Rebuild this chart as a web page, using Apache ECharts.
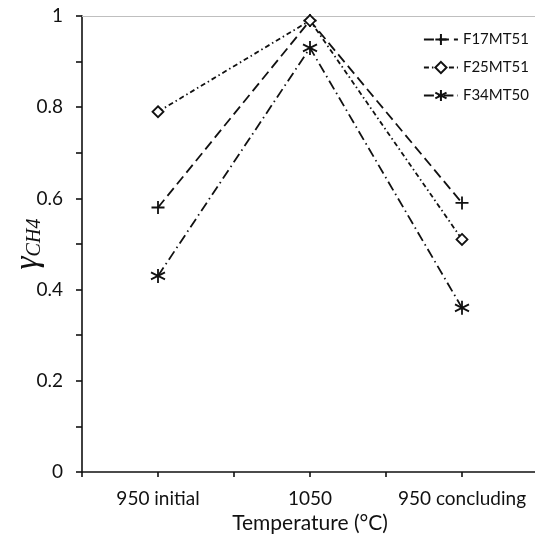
<!DOCTYPE html>
<html>
<head>
<meta charset="utf-8">
<script src="https://cdn.jsdelivr.net/npm/echarts@6/dist/echarts.min.js"></script>
<style>
  html, body { margin: 0; padding: 0; background: #fff; }
  #chart { width: 535px; height: 538px; }
</style>
</head>
<body>
<div id="chart"></div>
<script>
const categories = ['950 initial', '1050', '950 concluding'];
const seriesNames = ['F17MT51', 'F25MT51', 'F34MT50'];
const f17mt51 = [0.58, 0.99, 0.59];
const f25mt51 = [0.79, 0.99, 0.51];
const f34mt50 = [0.43, 0.93, 0.36];

const font = 'Lato, "Open Sans", sans-serif';
const ink = '#111';

// marker shapes drawn as strokes
const plusPath = 'path://M5,0L5,10M0,5L10,5';
const starPath = 'path://M5,0L5,10M0,2.5L10,7.5M0,7.5L10,2.5';
const diamondPath = 'path://M5,0L10,5L5,10L0,5Z';

const chart = echarts.init(document.getElementById('chart'));

function lineSeries(name, data, symbol, size, dash) {
  return {
    name: name,
    type: 'line',
    data: data,
    symbol: symbol,
    symbolSize: size,
    showAllSymbol: true,
    lineStyle: {color: ink, width: 1.8, type: dash},
    itemStyle: {color: '#fff', borderColor: ink, borderWidth: 1.8},
    emphasis: {disabled: true}
  };
}

const option = {
  animation: false,
  textStyle: {fontFamily: font, color: ink},
  grid: {left: 82, top: 16, right: -3, bottom: 66, containLabel: false, outerBoundsMode: 'none'},
  legend: {
    orient: 'vertical',
    right: 1,
    top: 27,
    itemWidth: 34,
    itemHeight: 14,
    itemGap: 13,
    textStyle: {fontSize: 15, color: ink, fontFamily: font},
    data: seriesNames
  },
  xAxis: [
    {
      type: 'category',
      data: categories,
      position: 'bottom',
      name: 'Temperature (°C)',
      nameLocation: 'middle',
      nameGap: 41,
      nameTextStyle: {fontSize: 21, color: ink, fontFamily: font},
      axisLine: {lineStyle: {color: ink, width: 1.6}},
      axisTick: {show: true, alignWithLabel: false, length: 5, lineStyle: {color: ink, width: 1.6}},
      axisLabel: {interval: 0, fontSize: 19, color: ink, margin: 17, fontFamily: font},
      splitLine: {show: false}
    },
    {
      // ticks at the category centres
      type: 'category',
      data: categories,
      position: 'bottom',
      axisLine: {show: false},
      axisTick: {show: true, alignWithLabel: true, interval: 0, length: 5, lineStyle: {color: ink, width: 1.6}},
      axisLabel: {show: false},
      splitLine: {show: false}
    },
    {
      // light top border of the plot area
      type: 'category',
      data: categories,
      position: 'top',
      axisLine: {lineStyle: {color: '#bfbfbf', width: 1}},
      axisTick: {show: false},
      axisLabel: {show: false},
      splitLine: {show: false}
    }
  ],
  yAxis: {
    type: 'value',
    min: 0,
    max: 1,
    interval: 0.2,
    name: '{g|γ}{s|CH4}',
    nameLocation: 'middle',
    nameRotate: 90,
    nameGap: 37,
    nameMoveOverlap: false,
    nameTextStyle: {
      rich: {
        g: {fontSize: 33, fontStyle: 'italic', fontFamily: '"Liberation Serif", serif', color: ink},
        s: {fontSize: 20, fontStyle: 'italic', fontFamily: '"Liberation Serif", serif', color: ink, padding: [12, 0, 0, 0]}
      }
    },
    axisLine: {show: true, lineStyle: {color: ink, width: 1.6}},
    axisTick: {show: true, length: 6, lineStyle: {color: ink, width: 1.6}},
    minorTick: {show: true, splitNumber: 2, length: 6, lineStyle: {color: ink, width: 1.6}},
    axisLabel: {fontSize: 19, color: ink, margin: 19, fontFamily: font},
    splitLine: {show: false}
  },
  series: [
    lineSeries('F17MT51', f17mt51, plusPath, 13, [10, 5]),
    lineSeries('F25MT51', f25mt51, diamondPath, 11, [5, 3, 1.5, 3]),
    lineSeries('F34MT50', f34mt50, starPath, 14, [10, 4, 1.5, 4])
  ]
};

chart.setOption(option);
</script>
</body>
</html>
